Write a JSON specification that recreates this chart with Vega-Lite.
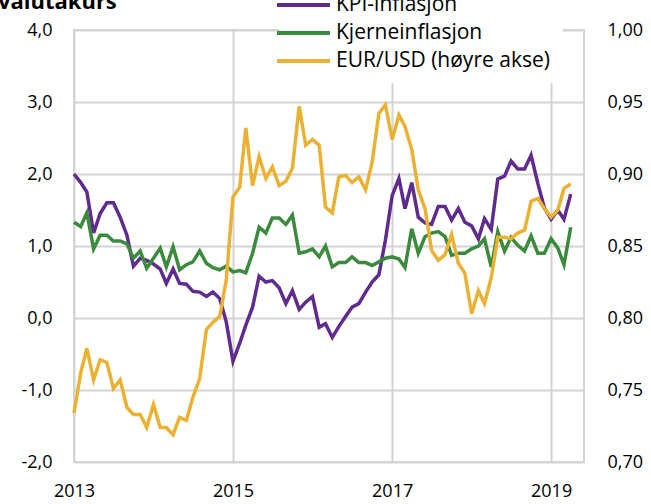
{
  "$schema": "https://vega.github.io/schema/vega-lite/v6.json",
  "autosize": {"type": "none"},
  "width": 510,
  "height": 432,
  "padding": {"left": 74, "top": 30, "right": 67, "bottom": 42},
  "title": {"text": "valutakurs", "anchor": "start", "fontSize": 22, "fontWeight": "bold", "font": "Open Sans", "color": "#000000", "dx": -23, "dy": 32.5, "offset": 0},
  "config": {
    "font": "Open Sans",
    "view": {"stroke": "#d4d4d4", "strokeWidth": 2},
    "axis": {"domain": false, "ticks": false, "gridColor": "#d4d4d4", "gridWidth": 2, "labelFontSize": 18, "labelColor": "#000000", "labelFont": "Open Sans", "title": null}
  },
  "data": {"values": [
    {"d":"2013-01-01","KPI-inflasjon":2.0,"Kjerneinflasjon":1.33,"eur":0.734},
    {"d":"2013-02-01","KPI-inflasjon":1.88,"Kjerneinflasjon":1.27,"eur":0.762},
    {"d":"2013-03-01","KPI-inflasjon":1.75,"Kjerneinflasjon":1.46,"eur":0.779},
    {"d":"2013-04-01","KPI-inflasjon":1.18,"Kjerneinflasjon":0.96,"eur":0.757},
    {"d":"2013-05-01","KPI-inflasjon":1.45,"Kjerneinflasjon":1.15,"eur":0.771},
    {"d":"2013-06-01","KPI-inflasjon":1.6,"Kjerneinflasjon":1.15,"eur":0.769},
    {"d":"2013-07-01","KPI-inflasjon":1.6,"Kjerneinflasjon":1.07,"eur":0.751},
    {"d":"2013-08-01","KPI-inflasjon":1.4,"Kjerneinflasjon":1.07,"eur":0.757},
    {"d":"2013-09-01","KPI-inflasjon":1.15,"Kjerneinflasjon":1.03,"eur":0.738},
    {"d":"2013-10-01","KPI-inflasjon":0.72,"Kjerneinflasjon":0.83,"eur":0.733},
    {"d":"2013-11-01","KPI-inflasjon":0.83,"Kjerneinflasjon":0.93,"eur":0.733},
    {"d":"2013-12-01","KPI-inflasjon":0.8,"Kjerneinflasjon":0.69,"eur":0.724},
    {"d":"2014-01-01","KPI-inflasjon":0.75,"Kjerneinflasjon":0.83,"eur":0.74},
    {"d":"2014-02-01","KPI-inflasjon":0.68,"Kjerneinflasjon":0.97,"eur":0.724},
    {"d":"2014-03-01","KPI-inflasjon":0.48,"Kjerneinflasjon":0.71,"eur":0.724},
    {"d":"2014-04-01","KPI-inflasjon":0.68,"Kjerneinflasjon":0.99,"eur":0.719},
    {"d":"2014-05-01","KPI-inflasjon":0.48,"Kjerneinflasjon":0.67,"eur":0.731},
    {"d":"2014-06-01","KPI-inflasjon":0.47,"Kjerneinflasjon":0.74,"eur":0.729},
    {"d":"2014-07-01","KPI-inflasjon":0.37,"Kjerneinflasjon":0.78,"eur":0.745},
    {"d":"2014-08-01","KPI-inflasjon":0.36,"Kjerneinflasjon":0.93,"eur":0.758},
    {"d":"2014-09-01","KPI-inflasjon":0.3,"Kjerneinflasjon":0.76,"eur":0.792},
    {"d":"2014-10-01","KPI-inflasjon":0.36,"Kjerneinflasjon":0.7,"eur":0.797},
    {"d":"2014-11-01","KPI-inflasjon":0.27,"Kjerneinflasjon":0.67,"eur":0.801},
    {"d":"2014-12-01","KPI-inflasjon":-0.05,"Kjerneinflasjon":0.72,"eur":0.826},
    {"d":"2015-01-01","KPI-inflasjon":-0.6,"Kjerneinflasjon":0.64,"eur":0.884},
    {"d":"2015-02-01","KPI-inflasjon":-0.35,"Kjerneinflasjon":0.66,"eur":0.891},
    {"d":"2015-03-01","KPI-inflasjon":-0.1,"Kjerneinflasjon":0.63,"eur":0.932},
    {"d":"2015-04-01","KPI-inflasjon":0.15,"Kjerneinflasjon":0.9,"eur":0.892},
    {"d":"2015-05-01","KPI-inflasjon":0.58,"Kjerneinflasjon":1.26,"eur":0.912},
    {"d":"2015-06-01","KPI-inflasjon":0.5,"Kjerneinflasjon":1.18,"eur":0.897},
    {"d":"2015-07-01","KPI-inflasjon":0.52,"Kjerneinflasjon":1.39,"eur":0.905},
    {"d":"2015-08-01","KPI-inflasjon":0.42,"Kjerneinflasjon":1.39,"eur":0.892},
    {"d":"2015-09-01","KPI-inflasjon":0.2,"Kjerneinflasjon":1.3,"eur":0.895},
    {"d":"2015-10-01","KPI-inflasjon":0.38,"Kjerneinflasjon":1.43,"eur":0.904},
    {"d":"2015-11-01","KPI-inflasjon":0.12,"Kjerneinflasjon":0.9,"eur":0.947},
    {"d":"2015-12-01","KPI-inflasjon":0.22,"Kjerneinflasjon":0.92,"eur":0.92},
    {"d":"2016-01-01","KPI-inflasjon":0.3,"Kjerneinflasjon":0.96,"eur":0.924},
    {"d":"2016-02-01","KPI-inflasjon":-0.13,"Kjerneinflasjon":0.85,"eur":0.92},
    {"d":"2016-03-01","KPI-inflasjon":-0.08,"Kjerneinflasjon":1.0,"eur":0.877},
    {"d":"2016-04-01","KPI-inflasjon":-0.27,"Kjerneinflasjon":0.71,"eur":0.873},
    {"d":"2016-05-01","KPI-inflasjon":-0.12,"Kjerneinflasjon":0.77,"eur":0.898},
    {"d":"2016-06-01","KPI-inflasjon":0.02,"Kjerneinflasjon":0.77,"eur":0.899},
    {"d":"2016-07-01","KPI-inflasjon":0.15,"Kjerneinflasjon":0.85,"eur":0.894},
    {"d":"2016-08-01","KPI-inflasjon":0.2,"Kjerneinflasjon":0.77,"eur":0.898},
    {"d":"2016-09-01","KPI-inflasjon":0.36,"Kjerneinflasjon":0.77,"eur":0.889},
    {"d":"2016-10-01","KPI-inflasjon":0.5,"Kjerneinflasjon":0.73,"eur":0.908},
    {"d":"2016-11-01","KPI-inflasjon":0.6,"Kjerneinflasjon":0.78,"eur":0.942},
    {"d":"2016-12-01","KPI-inflasjon":1.08,"Kjerneinflasjon":0.83,"eur":0.948},
    {"d":"2017-01-01","KPI-inflasjon":1.7,"Kjerneinflasjon":0.85,"eur":0.924},
    {"d":"2017-02-01","KPI-inflasjon":1.94,"Kjerneinflasjon":0.82,"eur":0.941},
    {"d":"2017-03-01","KPI-inflasjon":1.52,"Kjerneinflasjon":0.7,"eur":0.933},
    {"d":"2017-04-01","KPI-inflasjon":1.88,"Kjerneinflasjon":1.24,"eur":0.917},
    {"d":"2017-05-01","KPI-inflasjon":1.4,"Kjerneinflasjon":0.9,"eur":0.889},
    {"d":"2017-06-01","KPI-inflasjon":1.32,"Kjerneinflasjon":1.13,"eur":0.876},
    {"d":"2017-07-01","KPI-inflasjon":1.3,"Kjerneinflasjon":1.18,"eur":0.847},
    {"d":"2017-08-01","KPI-inflasjon":1.55,"Kjerneinflasjon":1.2,"eur":0.84},
    {"d":"2017-09-01","KPI-inflasjon":1.55,"Kjerneinflasjon":1.13,"eur":0.844},
    {"d":"2017-10-01","KPI-inflasjon":1.36,"Kjerneinflasjon":0.87,"eur":0.858},
    {"d":"2017-11-01","KPI-inflasjon":1.52,"Kjerneinflasjon":0.9,"eur":0.838},
    {"d":"2017-12-01","KPI-inflasjon":1.33,"Kjerneinflasjon":0.9,"eur":0.831},
    {"d":"2018-01-01","KPI-inflasjon":1.28,"Kjerneinflasjon":0.96,"eur":0.803},
    {"d":"2018-02-01","KPI-inflasjon":1.1,"Kjerneinflasjon":1.0,"eur":0.819},
    {"d":"2018-03-01","KPI-inflasjon":1.38,"Kjerneinflasjon":1.1,"eur":0.81},
    {"d":"2018-04-01","KPI-inflasjon":1.23,"Kjerneinflasjon":0.71,"eur":0.828},
    {"d":"2018-05-01","KPI-inflasjon":1.93,"Kjerneinflasjon":1.2,"eur":0.856},
    {"d":"2018-06-01","KPI-inflasjon":1.97,"Kjerneinflasjon":0.93,"eur":0.856},
    {"d":"2018-07-01","KPI-inflasjon":2.18,"Kjerneinflasjon":1.12,"eur":0.855},
    {"d":"2018-08-01","KPI-inflasjon":2.07,"Kjerneinflasjon":1.01,"eur":0.859},
    {"d":"2018-09-01","KPI-inflasjon":2.07,"Kjerneinflasjon":0.93,"eur":0.861},
    {"d":"2018-10-01","KPI-inflasjon":2.26,"Kjerneinflasjon":1.14,"eur":0.881},
    {"d":"2018-11-01","KPI-inflasjon":1.87,"Kjerneinflasjon":0.9,"eur":0.883},
    {"d":"2018-12-01","KPI-inflasjon":1.53,"Kjerneinflasjon":0.9,"eur":0.876},
    {"d":"2019-01-01","KPI-inflasjon":1.37,"Kjerneinflasjon":1.1,"eur":0.87},
    {"d":"2019-02-01","KPI-inflasjon":1.5,"Kjerneinflasjon":0.97,"eur":0.875},
    {"d":"2019-03-01","KPI-inflasjon":1.37,"Kjerneinflasjon":0.74,"eur":0.89},
    {"d":"2019-04-01","KPI-inflasjon":1.72,"Kjerneinflasjon":1.26,"eur":0.893}
  ]},
  "encoding": {
    "x": {"field": "d", "type": "temporal",
      "scale": {"domain": [{"year": 2013, "month": 1, "date": 1}, {"year": 2019, "month": 6, "date": 1}]},
      "axis": {"values": [{"year": 2013, "month": 1, "date": 1}, {"year": 2015, "month": 1, "date": 1}, {"year": 2017, "month": 1, "date": 1}, {"year": 2019, "month": 1, "date": 1}], "format": "%Y", "labelPadding": 20, "labelFlush": false, "labelOverlap": false}}
  },
  "layer": [
    {
      "transform": [{"fold": ["KPI-inflasjon", "Kjerneinflasjon"], "as": ["serie", "v"]}],
      "mark": {"type": "line", "strokeWidth": 3.5},
      "encoding": {
        "y": {"field": "v", "type": "quantitative", "scale": {"domain": [-2, 4], "nice": false, "zero": false},
          "axis": {"orient": "left", "values": [-2, -1, 0, 1, 2, 3, 4], "labelPadding": 22, "labelExpr": "replace(replace(format(datum.value, '.1f'), '.', ','), '\u2212', '-')"}},
        "color": {"field": "serie", "type": "nominal",
          "scale": {"domain": ["KPI-inflasjon", "Kjerneinflasjon", "EUR/USD (høyre akse)"], "range": ["#5f2b8e", "#3b8a3d", "#ebb133"]},
          "legend": {"title": null, "orient": "none", "legendX": 205.5, "legendY": -49, "fillColor": "white", "padding": 12, "symbolType": "M-2.65,0H2.65", "symbolSize": 400, "symbolStrokeWidth": 4, "symbolFillColor": "transparent", "labelFontSize": 21, "labelLimit": 400, "labelColor": "#000000", "labelFont": "Open Sans", "rowPadding": 6, "labelOffset": 20.5}}
      }
    },
    {
      "mark": {"type": "line", "strokeWidth": 3.5},
      "encoding": {
        "y": {"field": "eur", "type": "quantitative", "scale": {"domain": [0.7, 1.0], "nice": false, "zero": false},
          "axis": {"orient": "right", "grid": false, "values": [0.7, 0.75, 0.8, 0.85, 0.9, 0.95, 1.0], "labelPadding": 23, "labelExpr": "replace(format(datum.value, '.2f'), '.', ',')"}},
        "color": {"datum": "EUR/USD (høyre akse)"}
      }
    }
  ],
  "resolve": {"scale": {"y": "independent"}}
}
